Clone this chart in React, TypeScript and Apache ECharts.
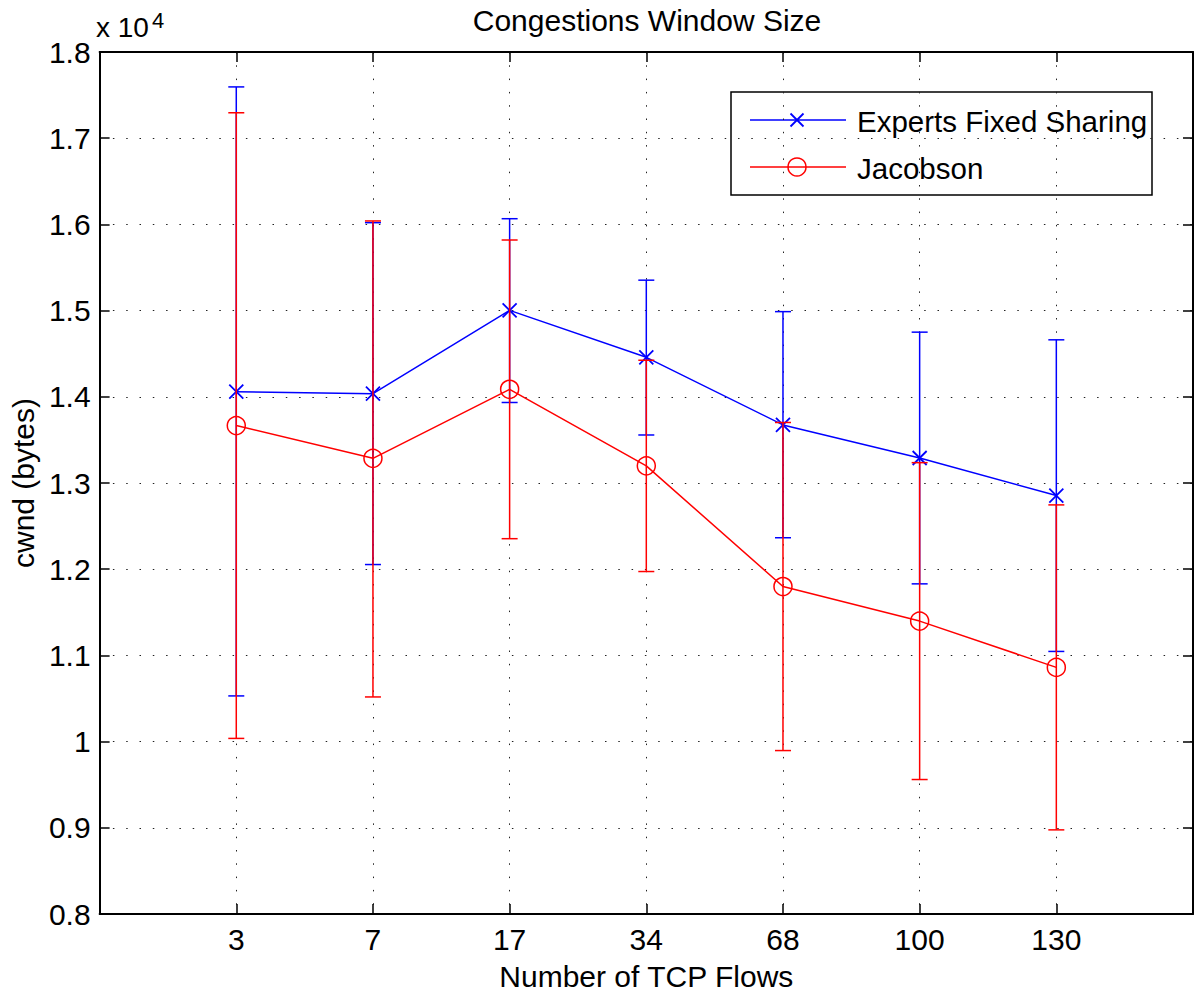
import React, { useEffect, useRef } from "react";
import * as echarts from "echarts";

const flows = ["3", "7", "17", "34", "68", "100", "130"];
const expertsMean = [14060, 14036, 15003, 14458, 13674, 13290, 12854];
const expertsLow = [10530, 12054, 13934, 13557, 12365, 11830, 11046];
const expertsHigh = [17595, 16020, 16066, 15353, 14988, 14750, 14661];
const jacobsonMean = [13666, 13286, 14087, 13199, 11799, 11398, 10861];
const jacobsonLow = [10037, 10518, 12354, 11973, 9896, 9560, 8976];
const jacobsonHigh = [17295, 16040, 15819, 14424, 13702, 13236, 12746];

const yTicks = { min: 8000, max: 18000, interval: 1000 };
const FONT = "'Liberation Sans', Arial, Helvetica, sans-serif";
const BLUE = "#0000ff";
const RED = "#ff0000";

function errorBarSeries(name: string, low: number[], high: number[], color: string, z: number) {
  return {
    name,
    type: "custom",
    z,
    encode: { x: 0, y: [1, 2] },
    data: low.map((l, i) => [i + 1, l, high[i]]),
    renderItem: (params: any, api: any) => {
      const x = api.value(0);
      const lo = api.coord([x, api.value(1)]);
      const hi = api.coord([x, api.value(2)]);
      const hw = 8;
      const style = { stroke: color, lineWidth: 1.5, fill: "none" };
      return {
        type: "group",
        children: [
          { type: "line", shape: { x1: lo[0], y1: lo[1], x2: hi[0], y2: hi[1] }, style },
          { type: "line", shape: { x1: lo[0] - hw, y1: lo[1], x2: lo[0] + hw, y2: lo[1] }, style },
          { type: "line", shape: { x1: hi[0] - hw, y1: hi[1], x2: hi[0] + hw, y2: hi[1] }, style },
        ],
      };
    },
  };
}

export default function App() {
  const ref = useRef<HTMLDivElement>(null);

  useEffect(() => {
    if (!ref.current) return;
    const chart = echarts.init(ref.current, undefined, { renderer: "svg" });

    const gridLine = { show: true, lineStyle: { color: "#222", width: 1, type: [1.5, 11.8] as any } };
    const axisLine = { show: true, onZero: false, lineStyle: { color: "#000", width: 2 } };
    const tick = { show: true, inside: true, length: 10, lineStyle: { color: "#000", width: 1.5 } };

    const option: any = {
      animation: false,
      backgroundColor: "#ffffff",
      textStyle: { fontFamily: FONT },
      grid: { left: 97, right: 7, top: 52, bottom: 79, containLabel: false },
      xAxis: [
        {
          type: "value",
          min: 0,
          max: 8,
          interval: 1,
          position: "bottom",
          name: "Number of TCP Flows",
          nameLocation: "middle",
          nameGap: 47,
          nameTextStyle: { fontSize: 30, color: "#000", fontFamily: FONT },
          axisLine,
          axisTick: tick,
          splitLine: gridLine,
          axisLabel: {
            margin: 10,
            fontSize: 30,
            color: "#000",
            fontFamily: FONT,
            formatter: (v: number) => (v >= 1 && v <= flows.length ? flows[v - 1] : ""),
          },
        },
        {
          type: "value",
          min: 0,
          max: 8,
          interval: 1,
          position: "top",
          axisLine,
          axisTick: tick,
          splitLine: { show: false },
          axisLabel: { show: false },
        },
      ],
      yAxis: [
        {
          type: "value",
          ...yTicks,
          position: "left",
          name: "cwnd (bytes)",
          nameLocation: "middle",
          nameGap: 61,
          nameTextStyle: { fontSize: 30, color: "#000", fontFamily: FONT },
          axisLine,
          axisTick: tick,
          splitLine: gridLine,
          axisLabel: {
            margin: 9,
            fontSize: 30,
            color: "#000",
            fontFamily: FONT,
            formatter: (v: number) => String(Number((v / 10000).toFixed(1))),
          },
        },
        {
          type: "value",
          ...yTicks,
          position: "right",
          axisLine,
          axisTick: tick,
          splitLine: { show: false },
          axisLabel: { show: false },
        },
      ],
      series: [
        errorBarSeries("Experts Fixed Sharing error", expertsLow, expertsHigh, BLUE, 2),
        {
          name: "Experts Fixed Sharing",
          type: "line",
          z: 3,
          data: expertsMean.map((v, i) => [i + 1, v]),
          symbol: "path://M0 0L10 10M10 0L0 10",
          symbolSize: 14,
          showAllSymbol: true,
          lineStyle: { color: BLUE, width: 1.5 },
          itemStyle: { color: "none", borderColor: BLUE, borderWidth: 1.8 },
        },
        errorBarSeries("Jacobson error", jacobsonLow, jacobsonHigh, RED, 4),
        {
          name: "Jacobson",
          type: "line",
          z: 5,
          data: jacobsonMean.map((v, i) => [i + 1, v]),
          symbol: "circle",
          symbolSize: 18,
          showAllSymbol: true,
          lineStyle: { color: RED, width: 1.5 },
          itemStyle: { color: "none", borderColor: RED, borderWidth: 1.5 },
        },
      ],
      graphic: [
        {
          type: "text",
          x: 647,
          y: 20,
          style: {
            text: "Congestions Window Size",
            fontSize: 30,
            fontFamily: FONT,
            fill: "#000",
            align: "center",
            verticalAlign: "middle",
          },
        },
        {
          type: "text",
          x: 96,
          y: 27,
          style: { text: "x 10", fontSize: 28, fontFamily: FONT, fill: "#000", align: "left", verticalAlign: "middle" },
        },
        {
          type: "text",
          x: 152,
          y: 20,
          style: { text: "4", fontSize: 22, fontFamily: FONT, fill: "#000", align: "left", verticalAlign: "middle" },
        },
        {
          type: "group",
          z: 10,
          children: [
            {
              type: "rect",
              shape: { x: 731, y: 92, width: 421, height: 103 },
              style: { fill: "#fff", stroke: "#000", lineWidth: 1.5 },
            },
            { type: "line", shape: { x1: 750, y1: 120, x2: 846, y2: 120 }, style: { stroke: BLUE, lineWidth: 1.5 } },
            { type: "line", shape: { x1: 790.5, y1: 113.5, x2: 803.5, y2: 126.5 }, style: { stroke: BLUE, lineWidth: 1.8 } },
            { type: "line", shape: { x1: 803.5, y1: 113.5, x2: 790.5, y2: 126.5 }, style: { stroke: BLUE, lineWidth: 1.8 } },
            {
              type: "text",
              x: 857,
              y: 121,
              style: { text: "Experts Fixed Sharing", fontSize: 29.5, fontFamily: FONT, fill: "#000", verticalAlign: "middle" },
            },
            { type: "line", shape: { x1: 750, y1: 167, x2: 846, y2: 167 }, style: { stroke: RED, lineWidth: 1.5 } },
            { type: "circle", shape: { cx: 797, cy: 167, r: 9 }, style: { fill: "none", stroke: RED, lineWidth: 1.5 } },
            {
              type: "text",
              x: 857,
              y: 168,
              style: { text: "Jacobson", fontSize: 29.5, fontFamily: FONT, fill: "#000", verticalAlign: "middle" },
            },
          ],
        },
      ],
    };

    chart.setOption(option);
    return () => chart.dispose();
  }, []);

  return (
    <div
      ref={ref}
      style={{ position: "fixed", left: 0, top: 0, width: 1200, height: 996, background: "#fff" }}
    />
  );
}
